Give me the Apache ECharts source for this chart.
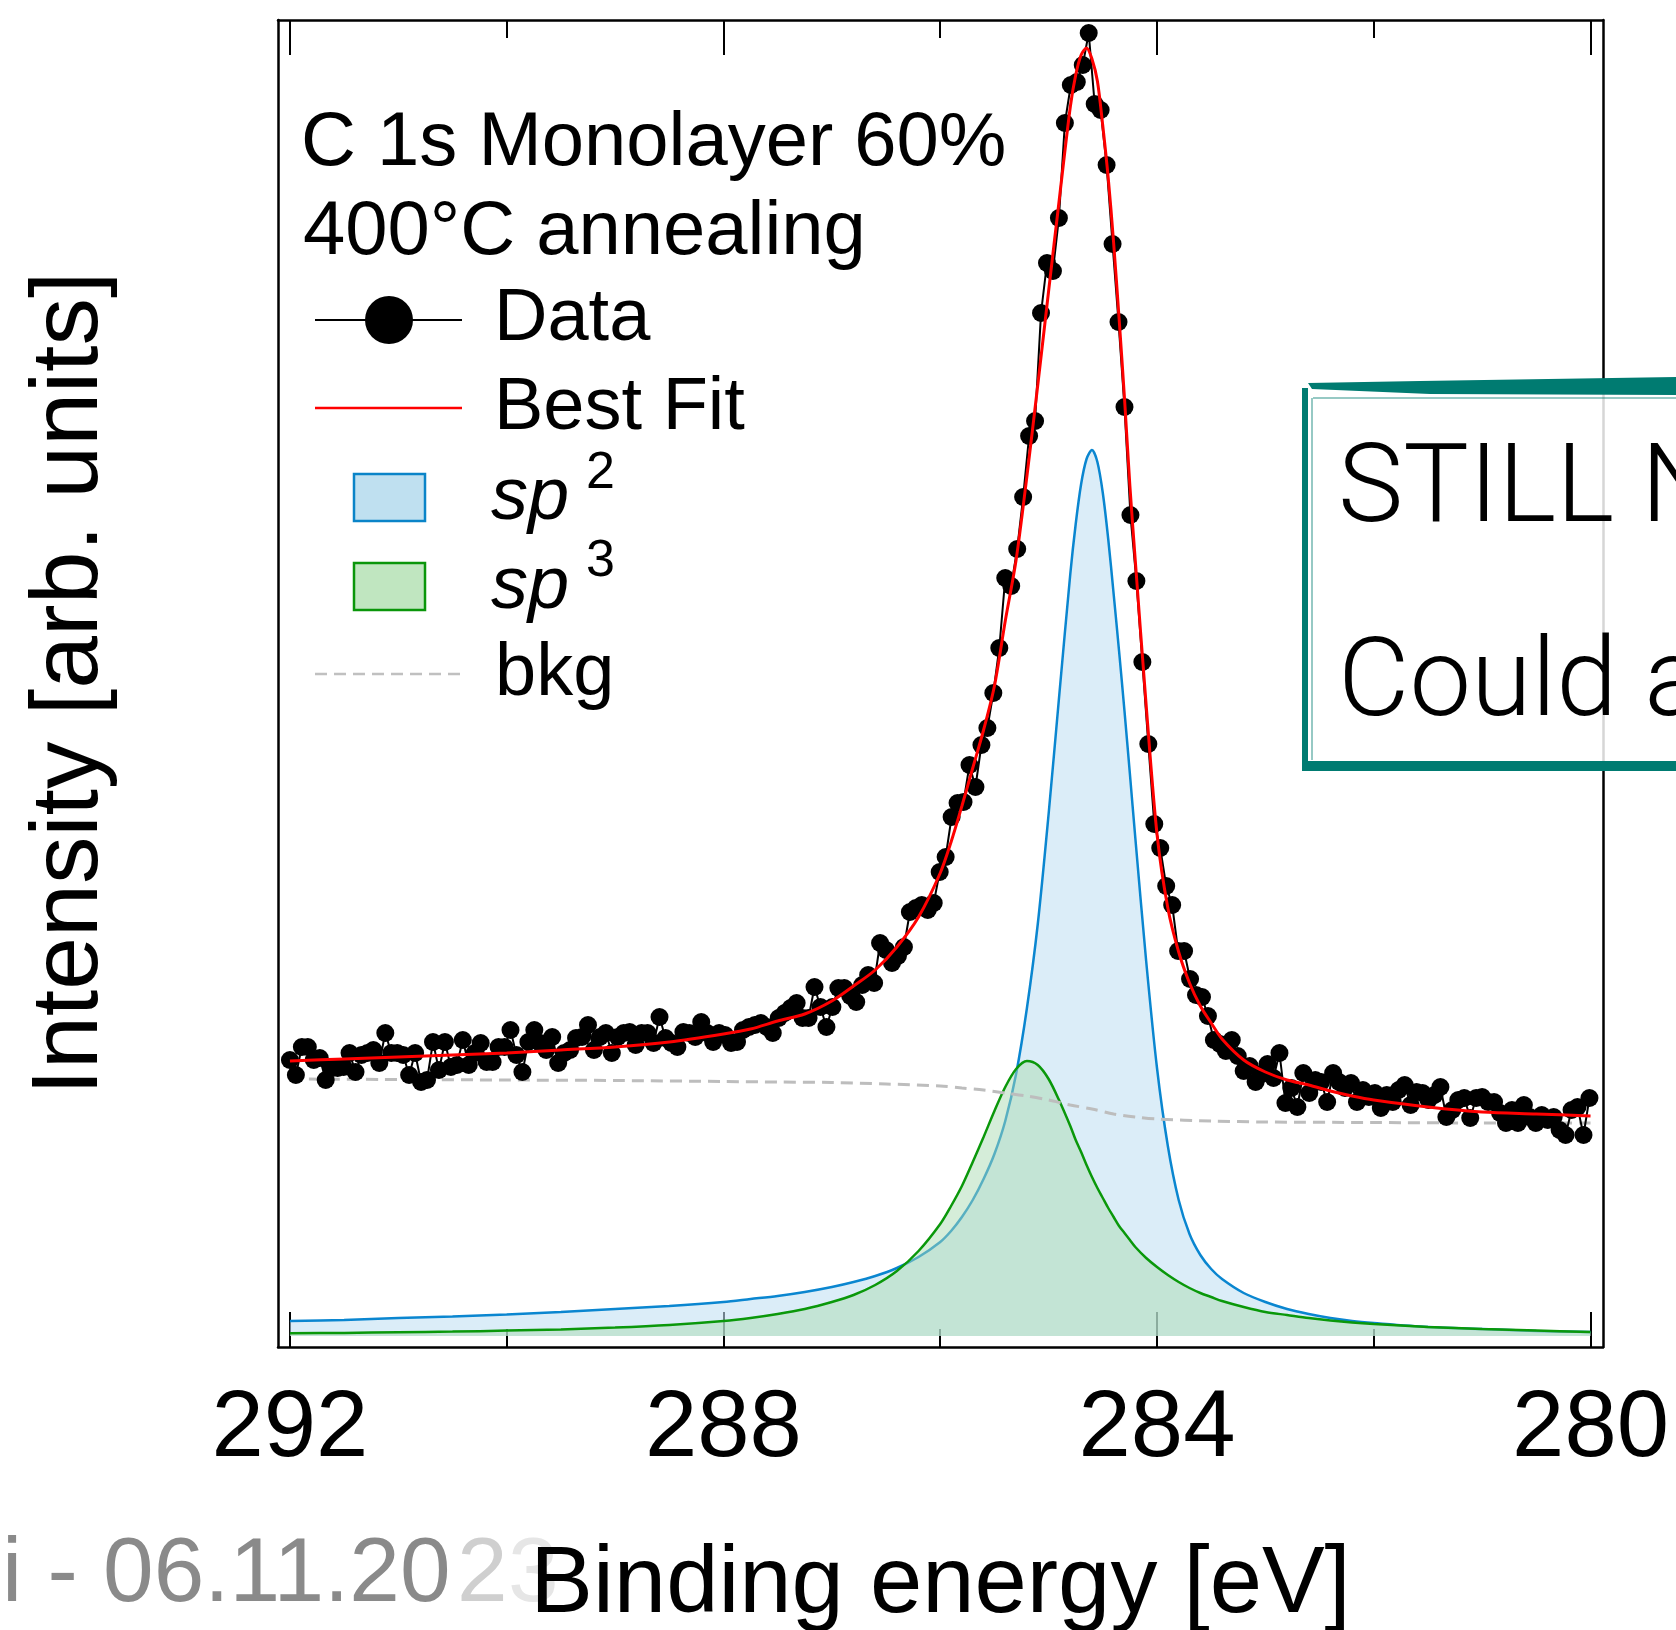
<!DOCTYPE html>
<html>
<head>
<meta charset="utf-8">
<title>C 1s Monolayer 60% - 400°C annealing</title>
<script src="https://cdn.jsdelivr.net/npm/echarts@6.0.0/dist/echarts.min.js"></script>
<style>
html,body{margin:0;padding:0;background:#fff;}
#chart{width:1676px;height:1630px;}
</style>
</head>
<body>
<div id="chart"></div>
<script>
// ---------------- data ----------------
const energyStart = 292.0;   // eV, first channel
const energyStep = 0.055;    // eV per channel
const dataIntensity = [
  276, 261, 289, 289, 276, 278, 256, 268, 268, 269,
  283, 264, 281, 283, 286, 273, 303, 283, 283, 281,
  261, 283, 254, 256, 294, 266, 294, 269, 271, 296,
  271, 283, 293, 274, 274, 289, 289, 306, 281, 264,
  294, 306, 293, 286, 299, 273, 283, 286, 298, 299,
  311, 286, 299, 303, 283, 299, 303, 304, 291, 303,
  303, 293, 319, 298, 293, 289, 304, 303, 299, 314,
  303, 294, 303, 301, 293, 294, 306, 309, 311, 313,
  309, 303, 318, 323, 328, 333, 318, 318, 349, 329,
  309, 329, 348, 348, 340, 334, 351, 361, 353, 393,
  386, 373, 380, 389, 424, 428, 431, 426, 433, 464,
  479, 519, 533, 534, 571, 549, 591, 608, 643, 688,
  758, 750, 787, 839, 900, 915, 1023, 1073, 1065, 1118,
  1213, 1251, 1254, 1271, 1303, 1232, 1226, 1171, 1092, 1014,
  929, 821, 755, 674, 592, 512, 488, 450, 431, 385,
  385, 357, 341, 339, 320, 296, 292, 285, 296, 280,
  265, 270, 254, 262, 272, 258, 283, 233, 248, 229,
  263, 243, 256, 254, 234, 263, 254, 248, 253, 234,
  246, 239, 243, 228, 241, 234, 246, 251, 231, 244,
  243, 236, 241, 249, 219, 226, 236, 238, 218, 238,
  239, 234, 234, 223, 213, 226, 213, 231, 219, 213,
  221, 216, 219, 206, 201, 226, 229, 201, 238
];
const modelEnergy = [
  292, 291.5, 291, 290.5, 290, 289.5, 289, 288.5, 288, 287.75,
  287.5, 287.25, 287, 286.8, 286.6, 286.4, 286.2, 286, 285.9, 285.8,
  285.7, 285.6, 285.5, 285.4, 285.3, 285.2, 285.1, 285, 284.9, 284.8,
  284.75, 284.7, 284.65, 284.6, 284.55, 284.5, 284.45, 284.4, 284.35, 284.3,
  284.25, 284.2, 284.1, 284, 283.9, 283.8, 283.7, 283.6, 283.5, 283.4,
  283.2, 283, 282.8, 282.6, 282.4, 282.2, 282, 281.5, 281, 280.5, 280
];
const fitValues = [
  275, 277, 279, 281, 283, 286, 289, 294, 302, 307,
  315, 322, 335, 350, 366, 389, 419, 463, 494, 530,
  568, 606, 650, 715, 776, 860, 951, 1045, 1138, 1229,
  1261, 1281, 1288, 1277, 1255, 1210, 1158, 1093, 1018, 938,
  850, 775, 631, 502, 428, 384, 353, 330, 313, 297,
  276, 264, 256, 251, 245, 240, 236, 229, 224, 222, 220
];
const sp2Values = [
  15, 16, 18, 19.5, 21.5, 24, 27, 30, 34, 37,
  40, 44, 49, 54, 60, 68, 79, 94, 105, 119,
  136, 157, 182, 215, 262, 328, 412, 522, 643, 762,
  812, 852, 877, 886, 874, 843, 797, 742, 685, 625,
  562, 498, 375, 268, 190, 136, 102, 81, 67, 57,
  43, 34, 27, 22, 18, 15, 13, 9, 7, 5, 4
];
const sp3Values = [
  2.7, 3.1, 3.7, 4.4, 5.4, 6.6, 8.4, 11, 15, 18,
  22, 27, 34, 41, 51, 65, 85, 112, 130, 150,
  174, 199, 225, 249, 267, 275, 271, 257, 235, 210,
  196, 184, 171, 159, 148, 138, 128, 119, 110, 103,
  96, 89, 78, 69, 61, 54, 48, 43, 39, 35,
  29, 24, 21, 18, 15.5, 13.5, 12, 9, 7, 5.5, 4
];
const bkgEnergy = [292, 291, 290, 289, 288, 287.5, 287, 286.5, 286, 285.8, 285.6, 285.4,
  285.2, 285, 284.8, 284.6, 284.4, 284.2, 284, 283.5, 283, 282, 281, 280];
const bkgValues = [257, 256.5, 256, 255.5, 254.5, 254, 253.5, 252, 250, 248, 246, 243,
  240, 236, 231, 227, 222, 219, 217, 215, 214, 213.5, 213, 213];
const majorTicks = [292, 288, 284, 280];
const minorTicks = [290, 286, 282];
const xRange = [279.885, 292.11];
const yRange = [-11, 1316];

// ---------------- build ----------------
const dataEnergy = dataIntensity.map((_, i) => +(energyStart - i * energyStep).toFixed(3));
const pairs = (xs, ys) => xs.map((x, i) => [x, ys[i]]);
const FONT = '"Liberation Sans", Arial, Helvetica, sans-serif';
const BLACK = '#000';
const AXIS_FONT = 94;

function xAxisCfg(position, ticks, len, showLine, label) {
  return {
    type: 'value', position: position, inverse: true,
    min: xRange[0], max: xRange[1],
    axisLine: { show: showLine, onZero: false, lineStyle: { color: BLACK, width: 2.5 } },
    axisTick: { show: true, inside: true, length: len, customValues: ticks, lineStyle: { color: BLACK, width: 2 } },
    axisLabel: label ? {
      show: true, customValues: ticks, margin: 36, color: BLACK,
      fontSize: AXIS_FONT, lineHeight: AXIS_FONT, fontFamily: FONT
    } : { show: false },
    splitLine: { show: false },
    z: 0
  };
}

function text(str, x, y, size, extra) {
  extra = extra || {};
  return {
    type: 'text', z: extra.z != null ? extra.z : 100, silent: true,
    style: {
      text: str, x: x, y: y,
      font: (extra.fontStyle || 'normal') + ' ' + (extra.weight || 'normal') + ' ' + size + 'px ' + (extra.family || FONT),
      fill: extra.color || BLACK,
      textAlign: 'left', align: 'left',
      textVerticalAlign: 'middle', verticalAlign: 'middle'
    }
  };
}

const TEAL = '#007b71';
const NOTE_FONT = 'Roboto, "Liberation Sans", sans-serif';
const graphics = [
  // title
  text('C 1s Monolayer 60%', 301, 144, 76),
  text('400°C annealing', 303, 233, 76),
  // legend: Data
  { type: 'line', z: 100, silent: true, shape: { x1: 315, y1: 320, x2: 462, y2: 320 }, style: { stroke: BLACK, lineWidth: 2 } },
  { type: 'circle', z: 101, silent: true, shape: { cx: 389, cy: 320, r: 24 }, style: { fill: BLACK } },
  text('Data', 494, 320, 74),
  // legend: Best Fit
  { type: 'line', z: 100, silent: true, shape: { x1: 315, y1: 408, x2: 462, y2: 408 }, style: { stroke: '#ff0000', lineWidth: 2.5 } },
  text('Best Fit', 494, 409, 74),
  // legend: sp2
  { type: 'rect', z: 100, silent: true, shape: { x: 354, y: 474, width: 71, height: 47 }, style: { fill: '#bfe0f0', stroke: '#0a84c8', lineWidth: 2.5 } },
  text('sp', 491, 498, 74, { fontStyle: 'italic' }),
  text('2', 586, 474, 52),
  // legend: sp3
  { type: 'rect', z: 100, silent: true, shape: { x: 354, y: 563, width: 71, height: 47 }, style: { fill: '#c0e6c0', stroke: '#0a960a', lineWidth: 2.5 } },
  text('sp', 491, 587, 74, { fontStyle: 'italic' }),
  text('3', 586, 562, 52),
  // legend: bkg
  { type: 'line', z: 100, silent: true, shape: { x1: 315, y1: 674, x2: 460, y2: 674 }, style: { stroke: '#c0c0c0', lineWidth: 2.5, lineDash: [12, 7] } },
  text('bkg', 495, 675, 74),

  // overlay note box (cut by the right edge)
  { type: 'rect', z: 200, silent: true, shape: { x: 1306, y: 386, width: 420, height: 380 }, style: { fill: 'rgba(255,255,255,0.84)' } },
  { type: 'polygon', z: 201, silent: true, shape: { points: [[1308, 383], [1420, 381], [1676, 377], [1676, 395], [1430, 394], [1312, 389]] }, style: { fill: TEAL } },
  { type: 'line', z: 201, silent: true, shape: { x1: 1313, y1: 398, x2: 1676, y2: 398 }, style: { stroke: TEAL, lineWidth: 1.5, opacity: 0.55 } },
  { type: 'rect', z: 201, silent: true, shape: { x: 1302, y: 388, width: 6, height: 382 }, style: { fill: TEAL } },
  { type: 'line', z: 201, silent: true, shape: { x1: 1312, y1: 398, x2: 1312, y2: 760 }, style: { stroke: TEAL, lineWidth: 1.5, opacity: 0.55 } },
  { type: 'rect', z: 201, silent: true, shape: { x: 1302, y: 761, width: 374, height: 10 }, style: { fill: TEAL } },
  text('STILL N', 1338, 493, 110, { z: 202, weight: 300, family: NOTE_FONT }),
  text('Could a', 1338, 687, 110, { z: 202, weight: 300, family: NOTE_FONT }),

  // author/date stamp at lower left (fading)
  text('i - 06.11.20', 2, 1576, 91, { z: -1, color: '#8a8a8a' }),
  text('2', 457, 1576, 91, { z: -1, color: '#cfcfcf' }),
  text('3', 508, 1576, 91, { z: -1, color: '#e6e6e6' })
];

const chart = echarts.init(document.getElementById('chart'), null, { renderer: 'canvas' });
chart.setOption({
  backgroundColor: '#ffffff',
  animation: false,
  textStyle: { fontFamily: FONT },
  grid: { left: 278, top: 20, width: 1325, height: 1327, containLabel: false, outerBoundsMode: 'none' },
  xAxis: [
    Object.assign(xAxisCfg('bottom', majorTicks, 35, true, true), {
      name: 'Binding energy [eV]', nameLocation: 'middle', nameGap: 192, nameMoveOverlap: false,
      nameTextStyle: { fontSize: AXIS_FONT, lineHeight: AXIS_FONT, color: BLACK, fontFamily: FONT }
    }),
    xAxisCfg('bottom', minorTicks, 18, false, false),
    xAxisCfg('top', majorTicks, 35, true, false),
    xAxisCfg('top', minorTicks, 18, false, false)
  ],
  yAxis: [
    {
      type: 'value', position: 'left', min: yRange[0], max: yRange[1],
      axisLine: { show: true, onZero: false, lineStyle: { color: BLACK, width: 2.5 } },
      axisTick: { show: false }, axisLabel: { show: false }, splitLine: { show: false },
      name: 'Intensity [arb. units]', nameLocation: 'middle', nameGap: 160, nameMoveOverlap: false,
      nameTextStyle: { fontSize: 95, lineHeight: 95, color: BLACK, fontFamily: FONT }
    },
    {
      type: 'value', position: 'right', min: yRange[0], max: yRange[1],
      axisLine: { show: true, onZero: false, lineStyle: { color: BLACK, width: 2.5 } },
      axisTick: { show: false }, axisLabel: { show: false }, splitLine: { show: false }
    }
  ],
  series: [
    {
      name: 'sp2', type: 'line', xAxisIndex: 0, yAxisIndex: 0, z: 2,
      data: pairs(modelEnergy, sp2Values), smooth: 0.3, symbol: 'none', silent: true,
      lineStyle: { color: '#0a86d0', width: 2.5 },
      areaStyle: { color: 'rgba(192,224,242,0.82)' }
    },
    {
      name: 'sp3', type: 'line', xAxisIndex: 0, yAxisIndex: 0, z: 3,
      data: pairs(modelEnergy, sp3Values), smooth: 0.3, symbol: 'none', silent: true,
      lineStyle: { color: '#0a980a', width: 2.5 },
      areaStyle: { color: 'rgba(170,218,178,0.7)' }
    },
    {
      name: 'bkg', type: 'line', xAxisIndex: 0, yAxisIndex: 0, z: 4,
      data: pairs(bkgEnergy, bkgValues), smooth: 0.3, symbol: 'none', silent: true,
      lineStyle: { color: '#bdbdbd', width: 3, type: [12, 7] }
    },
    {
      name: 'Data', type: 'line', xAxisIndex: 0, yAxisIndex: 0, z: 5,
      data: pairs(dataEnergy, dataIntensity), symbol: 'circle', symbolSize: 18,
      showSymbol: true, showAllSymbol: true, silent: true,
      itemStyle: { color: BLACK }, lineStyle: { color: BLACK, width: 2 }
    },
    {
      name: 'Best Fit', type: 'line', xAxisIndex: 0, yAxisIndex: 0, z: 6,
      data: pairs(modelEnergy, fitValues), smooth: 0.3, symbol: 'none', silent: true,
      lineStyle: { color: '#ff0000', width: 3 }
    }
  ],
  graphic: { elements: graphics }
});
</script>
</body>
</html>
